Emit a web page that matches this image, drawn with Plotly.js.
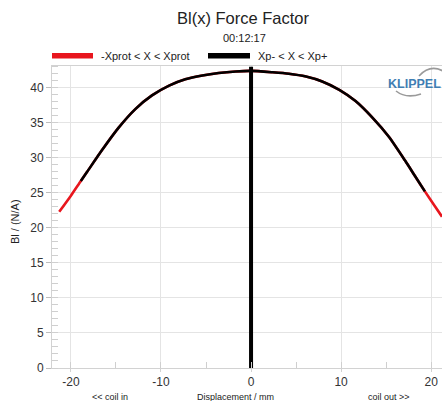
<!DOCTYPE html>
<html>
<head>
<meta charset="utf-8">
<script src="https://cdn.plot.ly/plotly-3.0.1.min.js"></script>
<style>html,body{margin:0;padding:0;background:#fff;}#chart{width:442px;height:401px;}</style>
</head>
<body>
<div id="chart"></div>
<script>
// Bl(x) over the protected range -Xprot < X < Xprot (red)
const protX = [-21.3, -20.0, -18.9, -18.2, -16.6, -14.7, -12.85, -11.0, -9.1, -7.3, -5.4, -3.6, -1.7, 0.0, 2.4, 4.2, 6.1, 7.9, 9.8, 11.6, 13.5, 15.3, 17.1, 18.2, 19.3, 20.3, 21.2];
const protBl = [22.3, 24.6, 26.7, 28.0, 31.0, 34.3, 36.95, 38.9, 40.3, 41.2, 41.75, 42.1, 42.32, 42.4, 42.2, 42.0, 41.6, 40.9, 39.7, 38.1, 35.7, 33.0, 29.6, 27.4, 25.2, 23.3, 21.6];
// Bl(x) over the measured range Xp- < X < Xp+ (black)
const xpX = [-18.9, -18.2, -16.6, -14.7, -12.85, -11.0, -9.1, -7.3, -5.4, -3.6, -1.7, 0.0, 2.4, 4.2, 6.1, 7.9, 9.8, 11.6, 13.5, 15.3, 17.1, 18.2, 19.3];
const xpBl = [26.7, 28.0, 31.0, 34.3, 36.95, 38.9, 40.3, 41.2, 41.75, 42.1, 42.32, 42.4, 42.2, 42.0, 41.6, 40.9, 39.7, 38.1, 35.7, 33.0, 29.6, 27.4, 25.2];
// rest position marker
const restX = [0, 0];
const restY = [0, 43];

const legendNames = ['-Xprot < X < Xprot', 'Xp- < X < Xp+'];
const xTicks = [-20, -10, 0, 10, 20];
const yTicks = [0, 5, 10, 15, 20, 25, 30, 35, 40];

const RED = '#e8161e';
const FONT = 'Liberation Sans, Arial, sans-serif';

const traces = [
  {x: protX, y: protBl, type: 'scatter', mode: 'lines', name: legendNames[0],
   line: {color: RED, width: 2.6, shape: 'spline', smoothing: 0.6}, showlegend: false, hoverinfo: 'skip'},
  {x: xpX, y: xpBl, type: 'scatter', mode: 'lines', name: legendNames[1],
   line: {color: '#000', width: 2.6, shape: 'spline', smoothing: 0.6}, showlegend: false, hoverinfo: 'skip'},
  {x: restX, y: restY, type: 'scatter', mode: 'lines',
   line: {color: '#000', width: 4}, showlegend: false, hoverinfo: 'skip'}
];

// pixel helpers for layout-only decoration (paper coordinates)
const PL = 52, PW = 390, PB = 368, PH = 302;
const px = v => (v - PL) / PW;
const py = v => (PB - v) / PH;

const layout = {
  width: 442, height: 401,
  margin: {l: 52, r: 0, t: 66, b: 33},
  paper_bgcolor: '#fff', plot_bgcolor: '#fff',
  font: {family: FONT, color: '#222'},
  showlegend: false,
  xaxis: {
    range: [-22.1, 21.2], tickvals: xTicks, ticktext: xTicks.map(String),
    showgrid: true, gridcolor: '#e4e4e4', gridwidth: 1,
    zeroline: false, showline: true, linecolor: '#d2d2d2', mirror: true,
    ticks: 'outside', ticklen: 3, tickcolor: '#d2d2d2',
    tickfont: {size: 12, color: '#333', family: FONT},
    minor: {dtick: 5, tick0: 0, ticks: 'inside', ticklen: 6, tickcolor: '#cfcfcf', showgrid: false}
  },
  yaxis: {
    range: [0, 43.1], tickvals: yTicks, ticktext: yTicks.map(String),
    showgrid: true, gridcolor: '#e4e4e4', gridwidth: 1,
    zeroline: false, showline: true, linecolor: '#d2d2d2',
    ticks: 'outside', ticklen: 5, tickcolor: '#bdbdbd',
    tickfont: {size: 12, color: '#333', family: FONT},
    minor: {dtick: 1, tick0: 0, ticks: 'inside', ticklen: 6, tickcolor: '#cfcfcf', showgrid: false}
  },
  shapes: [
    {type: 'rect', xref: 'paper', yref: 'paper', x0: px(52), x1: px(93), y0: py(58.5), y1: py(53), fillcolor: RED, line: {width: 0}},
    {type: 'rect', xref: 'paper', yref: 'paper', x0: px(208), x1: px(250), y0: py(58.5), y1: py(53), fillcolor: '#000', line: {width: 0}},
    // logo arcs
    {type: 'path', xref: 'paper', yref: 'paper', path: `M ${px(419)},${py(76)} Q ${px(430)},${py(64)} ${px(443)},${py(71)}`, line: {color: '#9a9a9a', width: 1.6}},
    {type: 'path', xref: 'paper', yref: 'paper', path: `M ${px(396)},${py(91)} Q ${px(406)},${py(99)} ${px(421)},${py(94)}`, line: {color: '#9a9a9a', width: 1.6}}
  ],
  annotations: [
    {xref: 'paper', yref: 'paper', x: px(243), y: py(18), text: 'Bl(x) Force Factor', showarrow: false, xanchor: 'center', yanchor: 'middle', font: {size: 16.5, color: '#222', family: FONT}},
    {xref: 'paper', yref: 'paper', x: px(244), y: py(37.5), text: '00:12:17', showarrow: false, xanchor: 'center', yanchor: 'middle', font: {size: 11, color: '#222', family: FONT}},
    {xref: 'paper', yref: 'paper', x: px(99), y: py(55.5), text: legendNames[0], showarrow: false, xanchor: 'left', yanchor: 'middle', font: {size: 11, color: '#222', family: FONT}},
    {xref: 'paper', yref: 'paper', x: px(256), y: py(55.5), text: legendNames[1], showarrow: false, xanchor: 'left', yanchor: 'middle', font: {size: 11, color: '#222', family: FONT}},
    {xref: 'paper', yref: 'paper', x: px(15), y: py(222), text: 'Bl / (N/A)', textangle: -90, showarrow: false, xanchor: 'center', yanchor: 'middle', font: {size: 11, color: '#222', family: FONT}},
    {xref: 'paper', yref: 'paper', x: px(235), y: py(396.5), text: 'Displacement / mm', showarrow: false, xanchor: 'center', yanchor: 'middle', font: {size: 9, color: '#222', family: FONT}},
    {xref: 'paper', yref: 'paper', x: px(110), y: py(396.5), text: '&lt;&lt; coil in', showarrow: false, xanchor: 'center', yanchor: 'middle', font: {size: 9, color: '#222', family: FONT}},
    {xref: 'paper', yref: 'paper', x: px(389), y: py(396.5), text: 'coil out &gt;&gt;', showarrow: false, xanchor: 'center', yanchor: 'middle', font: {size: 9, color: '#222', family: FONT}},
    {xref: 'paper', yref: 'paper', x: px(386), y: py(84), text: '<b>KLIPPEL</b>', showarrow: false, xanchor: 'left', yanchor: 'middle', font: {size: 12.5, color: '#3f7eb3', family: FONT}}
  ]
};

Plotly.newPlot('chart', traces, layout, {displayModeBar: false, staticPlot: true});
</script>
</body>
</html>
